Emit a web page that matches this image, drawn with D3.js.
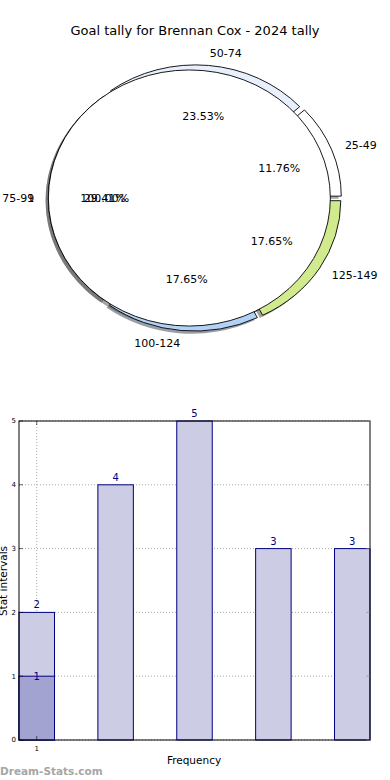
<!DOCTYPE html>
<html><head><meta charset="utf-8">
<script src="https://cdn.jsdelivr.net/npm/d3@7"></script>
<style>
html,body{margin:0;padding:0;background:#fff;}
svg{display:block;font-family:"DejaVu Sans",sans-serif;}
</style></head>
<body>
<svg id="c" width="390" height="780"></svg>
<script>
// ---- data ----
const titleText = "Goal tally for Brennan Cox - 2024 tally";
const pieLabels = ["25-49", "50-74", "75-99", "100-124", "125-149"];
const pieValues = [2, 4, 5, 3, 3];
const pieColors = ["#ffffff", "#e8f0fd", "#ffffff", "#b3d1f7", "#d1ea8e"];
const pieExplode = [0.04, 0.04, 0.04, 0.04, 0.04];
const overlayLabels = ["1"];
const overlayValues = [1];
const overlayExplode = [0.04];
const barValues = [2, 4, 5, 3, 3];
const barOverlayValues = [1];
const xTickLabels = ["1"];
const yTicks = [0, 1, 2, 3, 4, 5];

const svg = d3.select("#c");

// ---- title ----
svg.append("text").attr("x", 195).attr("y", 35).attr("text-anchor", "middle")
  .attr("font-size", 13).attr("fill", "#000").text(titleText);

// ---- pie ----
const cx = 195, cy = 198, rx = 141, ry = 128;
const pieGen = d3.pie().sort(null).startAngle(Math.PI / 2).endAngle(Math.PI / 2 - 2 * Math.PI);
const arcGen = d3.arc().innerRadius(0).outerRadius(rx);
const sy = ry / rx;
const main = pieGen(pieValues);
const over = pieGen(overlayValues);

function mid(d) { return (d.startAngle + d.endAngle) / 2; }
function off(d, e) { const m = mid(d); return [e * rx * Math.sin(m), -e * ry * Math.cos(m)]; }
function pos(d, e, f) { const m = mid(d); const o = off(d, e); return [cx + o[0] + f * rx * Math.sin(m), cy + o[1] - f * ry * Math.cos(m)]; }

const gShadow = svg.append("g"), gWedge = svg.append("g"), gText = svg.append("g");
const shx = -2.8, shy = 2.6;
function drawWedge(g, d, dx, dy, fill, stroke, op) {
  g.append("path")
    .attr("transform", `translate(${cx + dx},${cy + dy}) scale(1,${sy})`)
    .attr("d", arcGen(d))
    .attr("fill", fill).attr("fill-opacity", op)
    .attr("stroke", stroke).attr("stroke-width", stroke === "none" ? 0 : 0.9)
    .attr("vector-effect", "non-scaling-stroke")
    .attr("stroke-linejoin", "round");
}
main.forEach((d, i) => {
  const o = off(d, pieExplode[i]);
  const c = d3.rgb(pieColors[i]);
  const sc = d3.rgb(c.r * 0.3, c.g * 0.3, c.b * 0.3);
  drawWedge(gShadow, d, o[0] + shx, o[1] + shy, sc, "none", 0.5);
  drawWedge(gWedge, d, o[0], o[1], pieColors[i], "#000", 1);
});
over.forEach((d, i) => {
  const o = off(d, overlayExplode[i]);
  drawWedge(gShadow, d, o[0] + shx, o[1] + shy, "#4d4d4d", "none", 0.5);
  drawWedge(gWedge, d, o[0], o[1], "#ffffff", "#000", 1);
});
function addLabels(arr, labels, vals, expl) {
  const tot = d3.sum(vals);
  arr.forEach((d, i) => {
    const e = expl[i];
    const p = pos(d, e, 1.1);
    const ox = off(d, e)[0];
    gText.append("text").attr("x", p[0]).attr("y", p[1]).attr("dy", "0.35em")
      .attr("text-anchor", p[0] > cx + ox ? "start" : "end")
      .attr("font-size", 11).text(labels[i]);
    const q = pos(d, e, 0.6);
    gText.append("text").attr("x", q[0]).attr("y", q[1]).attr("dy", "0.35em")
      .attr("text-anchor", "middle").attr("font-size", 11)
      .text((vals[i] / tot * 100).toFixed(2) + "%");
  });
}
addLabels(main, pieLabels, pieValues, pieExplode);
addLabels(over, overlayLabels, overlayValues, overlayExplode);

// ---- bar chart ----
const L = 19, R = 370, T = 421, B = 740;
const bw = 0.45;
const x = d3.scaleLinear().domain([-bw / 2, barValues.length - 1 + bw / 2]).range([L, R]);
const y = d3.scaleLinear().domain([0, 5]).range([B, T]);
const gb = svg.append("g");

// grid
gb.selectAll(".gy").data(yTicks).join("line")
  .attr("x1", L).attr("x2", R).attr("y1", d => y(d)).attr("y2", d => y(d))
  .attr("stroke", "#aaa").attr("stroke-width", 1).attr("stroke-dasharray", "1,2");
gb.selectAll(".gx").data(xTickLabels).join("line")
  .attr("x1", (d, i) => x(i)).attr("x2", (d, i) => x(i)).attr("y1", T).attr("y2", B)
  .attr("stroke", "#aaa").attr("stroke-width", 1).attr("stroke-dasharray", "1,2");

// bars
gb.selectAll(".bar").data(barValues).join("rect")
  .attr("x", (d, i) => x(i - bw / 2)).attr("width", x(bw) - x(0))
  .attr("y", d => y(d)).attr("height", d => y(0) - y(d))
  .attr("fill", "#ccccE4").attr("stroke", "#000080").attr("stroke-width", 1);
gb.selectAll(".bar2").data(barOverlayValues).join("rect")
  .attr("x", (d, i) => x(i - bw / 2)).attr("width", x(bw) - x(0))
  .attr("y", d => y(d)).attr("height", d => y(0) - y(d))
  .attr("fill", "#a3a3d1").attr("stroke", "#000080").attr("stroke-width", 1);

// value labels
gb.selectAll(".vl").data(barValues).join("text")
  .attr("x", (d, i) => x(i)).attr("y", d => y(d) - 4)
  .attr("text-anchor", "middle").attr("font-size", 10).attr("fill", "#000080").text(d => d);
gb.selectAll(".vl2").data(barOverlayValues).join("text")
  .attr("x", (d, i) => x(i)).attr("y", d => y(d) + 3.5)
  .attr("text-anchor", "middle").attr("font-size", 10).attr("fill", "#000080").text(d => d);

// frame
gb.append("rect").attr("x", L).attr("y", T).attr("width", R - L).attr("height", B - T)
  .attr("fill", "none").attr("stroke", "#000").attr("stroke-width", 1);

// ticks (inward)
yTicks.forEach(t => {
  gb.append("line").attr("x1", L).attr("x2", L + 4).attr("y1", y(t)).attr("y2", y(t)).attr("stroke", "#000").attr("stroke-width", 0.6);
  gb.append("line").attr("x1", R - 4).attr("x2", R).attr("y1", y(t)).attr("y2", y(t)).attr("stroke", "#888").attr("stroke-width", 0.6);
});
xTickLabels.forEach((t, i) => {
  gb.append("line").attr("x1", x(i)).attr("x2", x(i)).attr("y1", B).attr("y2", B - 4).attr("stroke", "#000").attr("stroke-width", 0.6);
  gb.append("line").attr("x1", x(i)).attr("x2", x(i)).attr("y1", T).attr("y2", T + 4).attr("stroke", "#000").attr("stroke-width", 0.6);
});

// tick labels
gb.selectAll(".yl").data(yTicks).join("text")
  .attr("x", L - 3).attr("y", d => y(d)).attr("dy", "0.35em")
  .attr("text-anchor", "end").attr("font-size", 7).text(d => d);
gb.selectAll(".xl").data(xTickLabels).join("text")
  .attr("x", (d, i) => x(i)).attr("y", B + 11)
  .attr("text-anchor", "middle").attr("font-size", 7).text(d => d);

// axis titles
gb.append("text").attr("x", 194).attr("y", 764).attr("text-anchor", "middle").attr("font-size", 10.5).text("Frequency");
gb.append("text").attr("transform", "translate(7,581) rotate(-90)").attr("text-anchor", "middle")
  .attr("font-size", 10.5).text("Stat intervals");

// watermark
svg.append("text").attr("x", 0).attr("y", 775).attr("font-size", 10.5).attr("font-weight", "bold")
  .attr("fill", "#a6a6a6").text("Dream-Stats.com");
</script>
</body></html>
